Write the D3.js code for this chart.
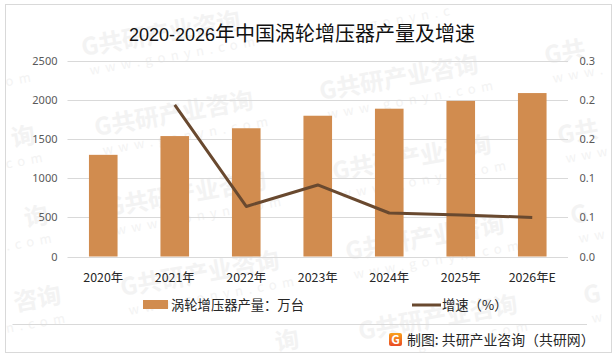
<!DOCTYPE html>
<html><head><meta charset="utf-8">
<script src="https://cdn.jsdelivr.net/npm/d3@7"></script>
<style>html,body{margin:0;padding:0;background:#fff}svg{display:block}
text{font-family:"Noto Sans CJK SC","Noto Sans",sans-serif}</style></head>
<body><svg id="c" width="615" height="357"></svg>
<script>
const categories=["2020年","2021年","2022年","2023年","2024年","2025年","2026年E"];
const output=[1300,1540,1640,1800,1890,1990,2090];
const growth=[null,0.194,0.064,0.0915,0.0556,0.053,0.05];
const leftTicks=[0,500,1000,1500,2000,2500];
const rightTicks=[0,0.05,0.1,0.15,0.2,0.25];
const rightTickLabels=["0.0","0.1","0.1","0.2","0.2","0.3"];
const titleLatin="2020-2026";
const titleCJK="年中国涡轮增压器产量及增速";
const barName="涡轮增压器产量：万台";
const lineName="增速（%）";
const sourceText="制图: 共研产业咨询（共研网）";
const wmName="G共研产业咨询";
const wmUrl="www.gonyn.com";

const svg=d3.select("#c");
const plot={l:67.5,r:568,t:61,b:256.5};
const x=d3.scaleBand().domain(categories).range([plot.l,plot.r]).paddingInner(0.6).paddingOuter(0.3);
const xc=d=>x(d)+x.bandwidth()/2;
const yL=d3.scaleLinear().domain([0,2500]).range([plot.b,plot.t]);
const yR=d3.scaleLinear().domain([0,0.25]).range([plot.b,plot.t]);

// watermark lattice: only the characters that fall inside the picture are written
const wm=svg.append("g");
const rot=-10*Math.PI/180, cs=Math.cos(rot), sn=Math.sin(rot);
function wmText(px,py,ox,oy,str,adv,size,weight,spacing){
  const inside=k=>{
    const a=ox+adv*k, b=a+adv;
    return [a,b].every(u=>{
      const X=px+u*cs-oy*sn, Y=py+u*sn+oy*cs;
      return X>6&&X<610&&Y>size+1&&Y<352;
    });
  };
  let first=-1,last=-1;
  for(let k=0;k<str.length;k++) if(inside(k)){ if(first<0)first=k; last=k; }
  if(first<0) return;
  const g=wm.append("g").attr("transform",`translate(${px},${py}) rotate(-10)`);
  const t=g.append("text").attr("x",ox+adv*first).attr("y",oy).attr("font-size",size)
    .attr("fill","#f3f3f3").text(str.slice(first,last+1));
  if(weight) t.attr("font-weight",weight);
  if(spacing) t.attr("letter-spacing",spacing);
}
for(let i=-2;i<=3;i++)for(let j=-2;j<=5;j++){
  const px=83+225*i+13*j,py=56-36*i+80*j;
  wmText(px,py,0,0,wmName,24,24,700,0);
  wmText(px,py,4,20,wmUrl,13,13,0,5.5);
}

// frame
svg.append("rect").attr("x",5.5).attr("y",4.5).attr("width",606).attr("height",348)
  .attr("fill","none").attr("stroke","#d9d9d9").attr("stroke-width",1);
svg.append("line").attr("x1",12.5).attr("x2",587).attr("y1",324.5).attr("y2",324.5)
  .attr("stroke","#d9d9d9");

// grid
svg.append("g").selectAll("line").data(leftTicks).join("line")
  .attr("x1",plot.l).attr("x2",plot.r)
  .attr("y1",d=>Math.round(yL(d))+0.5).attr("y2",d=>Math.round(yL(d))+0.5)
  .attr("stroke","#d9d9d9").attr("stroke-width",1);

// bars
svg.append("g").selectAll("rect").data(output).join("rect")
  .attr("x",(d,i)=>x(categories[i])).attr("width",x.bandwidth())
  .attr("y",d=>yL(d)).attr("height",d=>plot.b-yL(d)).attr("fill","#d18c4f");

// line
const line=d3.line().defined(d=>d!==null).x((d,i)=>xc(categories[i])).y(d=>yR(d));
svg.append("path").datum(growth).attr("d",line).attr("fill","none")
  .attr("stroke","#69492f").attr("stroke-width",3).attr("stroke-linejoin","round");

// axes
const axL=d3.axisLeft(yL).tickValues(leftTicks).tickFormat(d3.format("d")).tickSize(0).tickPadding(0);
const gL=svg.append("g").attr("transform","translate(57.5,0)").call(axL);
gL.select(".domain").remove();
gL.selectAll("text").attr("font-size",11).attr("fill","#595959").attr("dy","0.32em")
  .style("font-family",'"Noto Sans",sans-serif');
const axR=d3.axisRight(yR).tickValues(rightTicks).tickFormat((d,i)=>rightTickLabels[i]).tickSize(0).tickPadding(0);
const gR=svg.append("g").attr("transform","translate(579.5,0)").call(axR);
gR.select(".domain").remove();
gR.selectAll("text").attr("font-size",11).attr("fill","#595959").attr("dy","0.32em")
  .style("font-family",'"Noto Sans",sans-serif');
const axB=d3.axisBottom(x).tickSize(0).tickPadding(0);
const gB=svg.append("g").attr("transform","translate(0,273)").call(axB);
gB.select(".domain").remove();
gB.selectAll("text").attr("font-size",12.4).attr("fill","#262626").attr("dy","0.71em");

// title
const t=svg.append("text").attr("x",129).attr("y",41).attr("font-size",20).attr("fill","#111");
t.append("tspan").attr("font-size",18).style("font-family",'"Liberation Sans",sans-serif').text(titleLatin);
t.append("tspan").attr("x",215).text(titleCJK);

// legend
svg.append("rect").attr("x",143).attr("y",300).attr("width",25).attr("height",9).attr("fill","#d18c4f");
svg.append("text").attr("x",171).attr("y",309.5).attr("font-size",13.3).attr("fill","#262626").text(barName);
svg.append("line").attr("x1",412).attr("x2",441).attr("y1",305).attr("y2",305)
  .attr("stroke","#69492f").attr("stroke-width",3);
svg.append("text").attr("x",442).attr("y",309.5).attr("font-size",13.3).attr("fill","#262626").text(lineName);

// source
const defs=svg.append("defs");
const grad=defs.append("linearGradient").attr("id","lg").attr("x1",0).attr("y1",0).attr("x2",0).attr("y2",1);
grad.append("stop").attr("offset",0).attr("stop-color","#f9a11b");
grad.append("stop").attr("offset",1).attr("stop-color","#ea4b25");
const lg=svg.append("g").attr("transform","translate(389,333)");
lg.append("rect").attr("width",13).attr("height",13).attr("rx",2).attr("fill","url(#lg)");
lg.append("text").attr("x",6.5).attr("y",11).attr("text-anchor","middle").attr("font-size",12)
  .attr("font-weight",700).attr("fill","#fff").text("G");
svg.append("text").attr("x",407).attr("y",345).attr("font-size",13.9).attr("fill","#262626").text(sourceText);
</script></body></html>
